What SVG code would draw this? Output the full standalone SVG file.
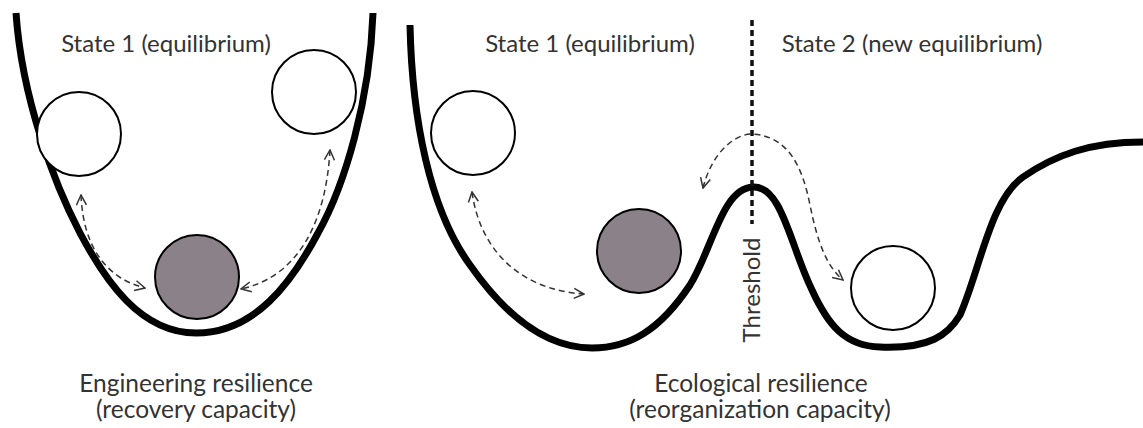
<svg xmlns="http://www.w3.org/2000/svg" width="1143" height="428" viewBox="0 0 1143 428">
<style>
.land{fill:none;stroke:#000;stroke-width:7;stroke-linecap:butt;stroke-linejoin:round}
.ball{fill:#fff;stroke:#000;stroke-width:2}
.ball.cur{fill:#8b8189}
.arr{fill:none;stroke:#333;stroke-width:1.5;stroke-dasharray:6 4;marker-start:url(#ah);marker-end:url(#ah)}
.lbl{font-family:Lato,"Open Sans",sans-serif;font-size:24px;fill:#333;text-anchor:middle}
.cap{font-size:24.5px}
.thr{fill:none;stroke:#111;stroke-width:3.5;stroke-dasharray:6 4}
</style>
<defs>
<marker id="ah" viewBox="0 0 12 12" refX="11" refY="6" markerWidth="12" markerHeight="12" markerUnits="userSpaceOnUse" orient="auto-start-reverse">
<path d="M1,1 L11,6 L1,11" fill="none" stroke="#333" stroke-width="1.5"/>
</marker>
</defs>
<rect width="1143" height="428" fill="#fff"/>
<g id="landscape-engineering">
<path class="land" d="M16,13 C22,100 55,185 80,233 C105,280 140,333 196,333 C255,333 292,282 318,233 C345,185 370,100 373,13"/>
</g>
<g id="landscape-ecological">
<path class="land" d="M410,25 C412,120 430,210 470,265 C505,315 545,348 592,348 C630,348 660,330 690,285 C712,250 722,188 753,187 C782,186 790,245 812,290 C828,325 845,346 880,347 C930,349 948,335 960,315 C980,270 990,200 1023,177 C1055,155 1090,142 1143,142"/>
</g>
<g id="threshold">
<line class="thr" x1="752" y1="20" x2="752" y2="224"/>
<text class="lbl" transform="translate(760,290) rotate(-90)">Threshold</text>
</g>
<g id="ball-eng-left"><circle class="ball" cx="79" cy="134" r="42"/></g>
<g id="ball-eng-right"><circle class="ball" cx="314" cy="92" r="42"/></g>
<g id="ball-eng-eq"><circle class="ball cur" cx="197" cy="277" r="42"/></g>
<g id="ball-eco-left"><circle class="ball" cx="473" cy="133" r="42"/></g>
<g id="ball-eco-eq"><circle class="ball cur" cx="639" cy="251" r="42"/></g>
<g id="ball-eco-new"><circle class="ball" cx="893" cy="288" r="42"/></g>
<g id="connectors">
<path class="arr" d="M81,195 C83,245 105,278 145,288"/>
<path class="arr" d="M330,150 C326,220 300,276 241,289"/>
<path class="arr" d="M472,192 C480,250 520,290 584,294"/>
<path class="arr" d="M703,188 C712,152 735,134 752,134 C790,136 803,170 810,205 C817,240 826,266 843,280"/>
</g>
<g id="labels">
<text class="lbl" x="166" y="52">State 1 (equilibrium)</text>
<text class="lbl" x="590" y="52">State 1 (equilibrium)</text>
<text class="lbl" x="912" y="52">State 2 (new equilibrium)</text>
<text class="lbl cap" x="196" y="392">Engineering resilience</text>
<text class="lbl cap" x="196" y="418">(recovery capacity)</text>
<text class="lbl cap" x="761" y="392">Ecological resilience</text>
<text class="lbl cap" x="760" y="418">(reorganization capacity)</text>
</g>
</svg>
